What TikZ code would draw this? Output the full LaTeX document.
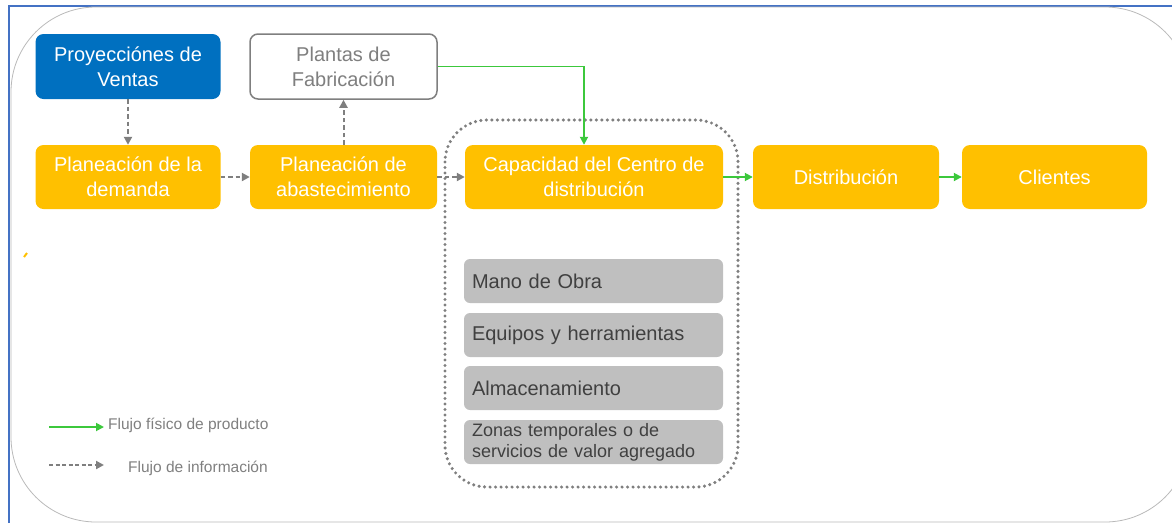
\documentclass[tikz,border=0pt]{standalone}
\usepackage{fontspec}
\setmainfont{Liberation Sans}
\usepackage{xcolor}
\usetikzlibrary{arrows.meta}

\definecolor{ventasblue}{RGB}{0,112,192}
\definecolor{procyellow}{RGB}{255,192,0}
\definecolor{flowgreen}{RGB}{60,200,60}
\definecolor{infogray}{RGB}{127,127,127}
\definecolor{itemgray}{RGB}{191,191,191}
\definecolor{itemtext}{RGB}{64,64,64}
\definecolor{frameblue}{RGB}{68,114,196}

\begin{document}
\begin{tikzpicture}[x=1pt, y=-1pt,
    proc/.style={rectangle, rounded corners=8pt, fill=procyellow, text=white, align=center,
        minimum height=64pt, inner sep=0pt, font=\fontsize{20}{25}\selectfont},
    item/.style={rectangle, rounded corners=6pt, fill=itemgray, text=itemtext, minimum width=259pt,
        minimum height=44pt, text width=243pt, inner xsep=8pt, inner ysep=0pt, align=left,
        font=\fontsize{20}{25}\selectfont},
    info/.style={draw=infogray, line width=2pt, dash pattern=on 4.5pt off 3pt, -{Triangle[length=8pt,width=8pt]}},
    phys/.style={draw=flowgreen, line width=1.8pt, -{Triangle[length=8pt,width=8pt]}},
    legend/.style={text=infogray, font=\fontsize{15.5}{18}\selectfont, anchor=west, inner sep=0pt}]

    % Page size
    \useasboundingbox (0,0) rectangle (1172,523);

    % Draw frame
    \draw[frameblue, line width=2pt] (8.5,523) -- (8.5,6) -- (1172,6);
    \begin{scope}
        \clip (0,0) rectangle (1172,523);
        \draw[gray!55, line width=0.8pt, rounded corners=85pt] (11,7) rectangle (1190,522);
    \end{scope}
    \draw[procyellow, line width=2pt] (24,257) -- (27,253);

    % Draw planning boxes
    \node[proc, fill=ventasblue, minimum width=185pt, minimum height=65pt] (proy) at (128,66.5) {Proyecciónes de\\Ventas};
    \node[proc, fill=white, draw=infogray, line width=1.5pt, text=infogray, minimum width=187pt, minimum height=65pt] (plantas) at (343.5,66.5) {Plantas de\\Fabricación};
    \node[proc, minimum width=185pt] (pdem) at (128,177) {Planeación de la\\demanda};
    \node[proc, minimum width=187pt] (pabas) at (343.5,177) {Planeación de\\abastecimiento};
    \node[proc, minimum width=258pt] (capac) at (594,177) {Capacidad del Centro de\\distribución};
    \node[proc, minimum width=186pt] (distr) at (846,177) {Distribución};
    \node[proc, minimum width=185pt] (clien) at (1054.5,177) {Clientes};

    % Draw capacity items
    \node[item] (mano) at (593.5,281) {Mano de Obra};
    \node[item] (equip) at (593.5,335) {Equipos y herramientas};
    \node[item] (almac) at (593.5,388) {Almacenamiento};
    \node[item, font=\fontsize{18}{21}\selectfont] (zonas) at (593.5,442) {Zonas temporales o de\\servicios de valor agregado};

    % Dotted group around the distribution center
    \draw[infogray, line width=3.4pt, line cap=round, dash pattern=on 0pt off 5.5pt, rounded corners=42pt] (445,120) rectangle (738,487);

    % Information flow
    \draw[info] (proy) -- (pdem);
    \draw[info] (pdem) -- (pabas);
    \draw[info] (pabas) -- (plantas);
    \draw[info] (pabas) -- (capac);

    % Physical flow
    \draw[phys] (plantas.east) -| ([xshift=-10pt]capac.north);
    \draw[phys] (capac) -- (distr);
    \draw[phys] (distr) -- (clien);

    % Legend
    \coordinate (physA) at (49,427);
    \coordinate (physB) at (104,427);
    \draw[phys] (physA) -- (physB);
    \node[legend] (physlbl) at (108,425) {Flujo físico de producto};
    \coordinate (infoA) at (49,465);
    \coordinate (infoB) at (104,465);
    \draw[info, dash pattern=on 4pt off 2.5pt] (infoA) -- (infoB);
    \node[legend] (infolbl) at (128,468) {Flujo de información};
\end{tikzpicture}
\end{document}
